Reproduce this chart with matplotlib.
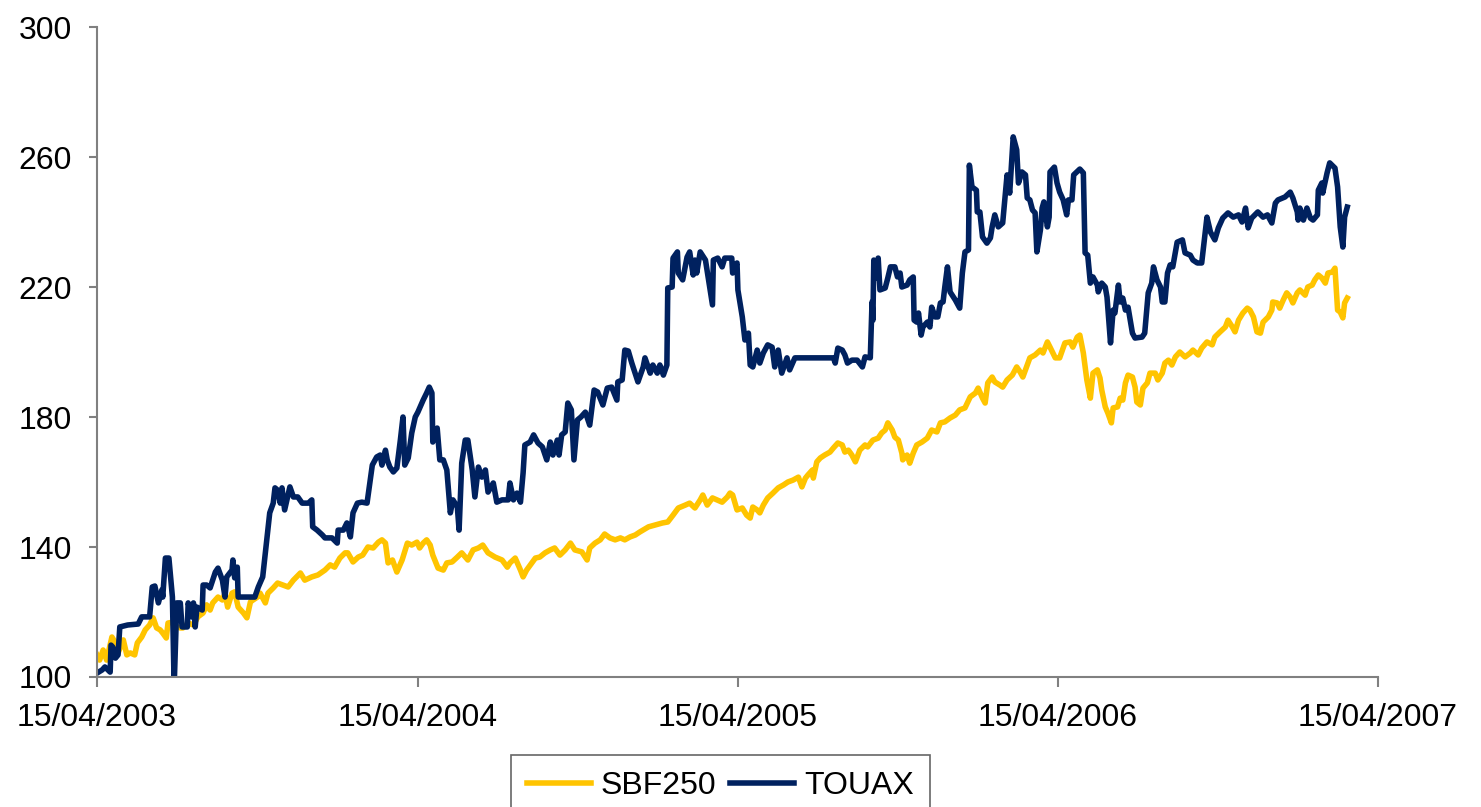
import numpy as np
import pandas as pd
import matplotlib
matplotlib.use('Agg')
import matplotlib.pyplot as plt
import matplotlib.dates as mdates

# Days since 15/04/2003 and index values
touax_days = [0, 6, 9, 15, 16, 18, 21, 24, 26, 35, 47, 51, 60, 63, 66, 70, 74, 75, 78, 82,
              86, 88, 91, 95, 97, 103, 104, 108, 110, 112, 114, 120, 121, 125, 129, 135, 138, 143, 146, 148,
              154, 155, 157, 160, 161, 180, 184, 189, 194, 197, 201, 203, 206, 209, 211, 214, 220, 224, 229, 234,
              241, 245, 246, 251, 257, 260, 268, 274, 275, 281, 285, 289, 292, 297, 302, 308, 314, 319, 323, 325,
              329, 331, 334, 338, 342, 346, 349, 351, 355, 359, 363, 366, 372, 376, 379, 382, 383, 388, 391, 395,
              399, 403, 406, 411, 413, 416, 420, 423, 428, 431, 435, 439, 443, 446, 452, 456, 462, 469, 471, 475,
              479, 483, 486, 488, 494, 498, 503, 508, 513, 517, 520, 525, 527, 530, 534, 537, 541, 544, 548, 552,
              557, 562, 567, 571, 577, 582, 587, 593, 594, 599, 602, 606, 610, 617, 623, 625, 631, 634, 639, 642,
              646, 650, 651, 656, 657, 662, 663, 668, 673, 676, 680, 682, 684, 688, 694, 697, 702, 703, 708, 713,
              716, 724, 725, 730, 731, 736, 739, 743, 745, 748, 753, 756, 760, 765, 770, 773, 777, 781, 787, 790,
              796, 840, 842, 845, 850, 853, 856, 861, 867, 873, 876, 882, 884, 885, 886, 890, 891, 893, 899, 902,
              905, 910, 913, 916, 918, 924, 927, 931, 932, 935, 937, 940, 942, 947, 950, 952, 956, 959, 962, 965,
              967, 970, 973, 979, 984, 987, 990, 994, 995, 998, 1003, 1004, 1007, 1010, 1015, 1019, 1021, 1024, 1028, 1033,
              1038, 1041, 1045, 1049, 1051, 1055, 1059, 1061, 1064, 1067, 1070, 1072, 1076, 1078, 1080, 1084, 1086, 1087, 1092, 1095,
              1098, 1102, 1106, 1108, 1112, 1114, 1121, 1125, 1127, 1130, 1133, 1136, 1141, 1142, 1146, 1150, 1152, 1156, 1159, 1161,
              1165, 1167, 1170, 1173, 1176, 1181, 1184, 1192, 1195, 1199, 1203, 1205, 1209, 1213, 1215, 1218, 1221, 1224, 1227, 1232,
              1238, 1241, 1247, 1250, 1255, 1260, 1266, 1270, 1275, 1279, 1284, 1290, 1296, 1302, 1306, 1310, 1313, 1317, 1324, 1330,
              1335, 1340, 1344, 1347, 1355, 1361, 1364, 1369, 1370, 1372, 1376, 1380, 1384, 1387, 1392, 1393, 1397, 1398, 1403, 1406,
              1412, 1415, 1418, 1421, 1423, 1426]
touax_vals = [101.2, 102.2, 103.1, 101.5, 109.8, 109.2, 105.8, 106.8, 115.4, 116.0, 116.3, 118.5, 118.5, 127.7, 128.0, 122.8, 126.8, 124.6, 136.6, 136.6,
              124.6, 97.0, 122.8, 122.8, 115.4, 115.4, 122.8, 118.5, 122.8, 115.4, 121.5, 120.6, 128.3, 128.3, 127.4, 132.3, 133.5, 129.8, 124.6, 130.8,
              132.9, 136.0, 130.5, 133.8, 124.6, 124.6, 127.7, 130.8, 143.1, 150.5, 153.5, 158.2, 157.5, 153.5, 158.2, 151.4, 158.5, 155.4, 155.4, 153.5,
              153.5, 154.5, 146.2, 145.2, 143.7, 142.8, 142.8, 141.2, 145.2, 145.2, 147.4, 143.1, 150.5, 153.5, 153.8, 153.5, 165.2, 167.7, 168.3, 165.2,
              169.8, 166.8, 164.6, 163.1, 164.3, 172.9, 180.0, 165.2, 167.4, 175.1, 180.0, 181.5, 185.2, 187.4, 189.2, 187.4, 172.3, 176.6, 166.8, 166.8,
              163.7, 150.5, 154.5, 152.3, 145.2, 165.8, 172.9, 172.9, 163.7, 155.4, 164.6, 161.5, 163.7, 156.9, 159.7, 153.8, 154.5, 154.5, 159.7, 154.5,
              156.6, 153.8, 162.8, 171.4, 172.3, 174.5, 172.0, 170.8, 166.8, 172.3, 168.3, 172.9, 168.3, 174.5, 175.4, 184.3, 182.2, 166.8, 179.1, 180.0,
              181.5, 177.5, 188.3, 187.7, 183.7, 188.9, 189.2, 185.2, 190.8, 191.4, 200.6, 200.3, 196.6, 190.8, 195.4, 198.2, 193.5, 196.0, 193.5, 196.0,
              192.9, 196.0, 219.7, 220.0, 228.9, 230.8, 224.3, 222.2, 229.2, 230.8, 223.7, 228.3, 224.3, 230.8, 228.3, 223.1, 214.5, 228.3, 228.9, 226.2,
              228.9, 228.9, 224.3, 227.4, 219.1, 210.8, 203.7, 205.8, 196.0, 195.4, 200.6, 196.6, 199.7, 202.2, 201.5, 195.4, 200.6, 193.5, 198.2, 194.5,
              198.2, 198.2, 196.6, 201.2, 200.6, 199.1, 196.6, 197.5, 197.5, 195.4, 198.5, 198.2, 215.4, 209.8, 228.3, 222.8, 228.9, 219.1, 219.7, 222.8,
              226.2, 226.2, 223.1, 224.3, 220.0, 220.6, 222.2, 223.1, 209.8, 209.2, 212.0, 205.2, 207.7, 209.2, 207.7, 213.8, 210.8, 210.8, 215.1, 215.4,
              220.0, 226.2, 218.5, 216.0, 213.5, 224.3, 230.8, 231.4, 257.5, 250.8, 249.8, 243.1, 243.1, 235.4, 233.5, 235.1, 238.5, 242.2, 238.5, 239.7,
              254.5, 248.9, 266.2, 262.2, 252.0, 255.4, 254.5, 247.4, 246.8, 243.7, 242.8, 230.8, 237.5, 244.3, 246.2, 238.5, 241.5, 255.4, 256.9, 252.0,
              249.2, 246.8, 242.2, 246.8, 246.8, 254.5, 256.3, 255.1, 230.5, 229.8, 221.2, 223.1, 220.6, 218.5, 221.2, 220.0, 216.9, 202.8, 212.9, 212.0,
              220.6, 215.4, 216.6, 212.9, 213.8, 205.8, 204.3, 204.6, 205.8, 218.2, 221.2, 226.2, 222.2, 220.0, 215.4, 215.4, 224.3, 226.8, 226.2, 233.8,
              234.5, 230.5, 229.8, 228.3, 227.4, 227.4, 241.5, 236.9, 234.5, 238.2, 241.2, 242.8, 241.5, 242.2, 240.0, 244.3, 238.2, 241.2, 243.1, 241.5,
              242.2, 239.7, 245.8, 246.8, 247.7, 249.2, 247.4, 243.1, 240.6, 244.3, 240.6, 244.3, 241.2, 240.6, 242.2, 249.8, 252.0, 248.9, 255.1, 258.2,
              256.6, 250.8, 238.5, 232.3, 241.5, 244.6]

sbf_days = [0, 3, 7, 11, 17, 21, 24, 30, 34, 38, 43, 46, 51, 55, 60, 64, 68, 72, 75, 79,
            81, 87, 91, 95, 98, 104, 110, 115, 121, 125, 129, 132, 138, 143, 146, 149, 154, 157, 161, 167,
            171, 175, 178, 183, 186, 192, 195, 201, 206, 212, 218, 224, 232, 237, 245, 252, 260, 266, 271, 277,
            283, 286, 292, 298, 303, 309, 315, 321, 325, 329, 332, 337, 342, 348, 354, 359, 365, 368, 372, 376,
            380, 383, 389, 395, 399, 405, 411, 416, 423, 429, 435, 440, 446, 454, 462, 468, 471, 477, 483, 486,
            490, 496, 500, 505, 511, 517, 522, 528, 534, 540, 545, 553, 559, 562, 568, 574, 579, 585, 591, 597,
            602, 608, 614, 619, 629, 637, 645, 651, 657, 663, 671, 676, 682, 688, 691, 696, 702, 707, 713, 719,
            722, 725, 730, 736, 741, 745, 748, 753, 756, 760, 765, 771, 777, 783, 788, 794, 800, 804, 808, 811,
            816, 817, 821, 825, 830, 836, 840, 845, 850, 853, 857, 861, 865, 870, 876, 879, 885, 891, 895, 899,
            902, 907, 910, 914, 918, 919, 924, 927, 931, 935, 941, 947, 952, 958, 962, 967, 973, 979, 984, 990,
            996, 1002, 1005, 1010, 1013, 1016, 1021, 1024, 1030, 1033, 1038, 1044, 1049, 1053, 1056, 1061, 1064, 1070, 1076, 1079,
            1084, 1087, 1093, 1098, 1104, 1110, 1113, 1118, 1121, 1125, 1129, 1133, 1136, 1141, 1144, 1146, 1150, 1153, 1157, 1159,
            1164, 1167, 1170, 1173, 1176, 1181, 1184, 1186, 1190, 1193, 1198, 1201, 1207, 1210, 1215, 1218, 1222, 1226, 1230, 1235,
            1241, 1247, 1250, 1256, 1260, 1266, 1272, 1275, 1281, 1287, 1290, 1295, 1298, 1302, 1307, 1312, 1315, 1319, 1323, 1327,
            1330, 1336, 1340, 1341, 1346, 1349, 1353, 1357, 1361, 1364, 1369, 1372, 1378, 1381, 1386, 1389, 1393, 1397, 1401, 1404,
            1409, 1412, 1415, 1418, 1421, 1423, 1426]
sbf_vals = [106.8, 105.2, 108.3, 105.2, 112.3, 110.5, 107.4, 111.4, 106.8, 107.4, 106.8, 110.5, 112.3, 114.5, 116.0, 118.2, 115.1, 114.5, 113.5, 112.0,
            116.6, 116.9, 115.4, 115.1, 115.1, 116.6, 116.0, 118.5, 119.7, 122.2, 120.6, 122.8, 124.6, 123.7, 125.8, 121.5, 125.8, 126.2, 121.5, 119.7,
            118.2, 123.1, 123.7, 124.6, 125.8, 122.8, 125.8, 127.4, 128.9, 128.3, 127.7, 129.8, 132.0, 129.8, 130.8, 131.4, 132.9, 134.5, 133.8, 136.6,
            138.2, 138.2, 135.4, 136.9, 137.5, 140.0, 139.7, 141.5, 142.2, 141.2, 135.1, 136.0, 132.3, 136.0, 141.2, 140.6, 141.5, 139.7, 141.2, 142.2,
            140.6, 137.5, 133.5, 132.9, 135.1, 135.4, 136.9, 138.2, 136.0, 139.1, 139.7, 140.6, 138.2, 136.9, 136.0, 133.8, 135.1, 136.6, 132.9, 130.8,
            132.9, 135.1, 136.6, 136.9, 138.2, 139.1, 139.7, 137.5, 139.1, 141.2, 139.1, 138.5, 136.0, 139.7, 141.2, 142.2, 144.0, 142.8, 142.2, 142.8,
            142.2, 143.1, 143.7, 144.6, 146.2, 146.8, 147.4, 147.7, 149.8, 152.0, 152.9, 153.5, 152.0, 154.5, 156.0, 152.9, 155.1, 154.5, 153.8, 155.4,
            156.6, 156.0, 151.4, 152.0, 149.8, 148.9, 152.3, 151.4, 150.5, 152.9, 155.1, 156.6, 158.2, 159.1, 160.0, 160.6, 161.5, 158.5, 161.2, 162.2,
            163.7, 161.2, 166.2, 167.4, 168.3, 169.2, 170.5, 172.0, 171.4, 169.2, 169.8, 168.3, 166.2, 169.8, 171.4, 170.8, 172.9, 173.5, 175.1, 176.0,
            178.2, 176.0, 173.8, 172.9, 168.9, 166.8, 168.3, 165.8, 168.9, 171.4, 172.3, 173.5, 176.0, 175.4, 178.2, 178.5, 179.7, 180.6, 182.2, 182.8,
            186.2, 187.4, 188.9, 185.8, 184.3, 190.5, 192.3, 190.8, 189.8, 189.2, 191.4, 192.9, 195.4, 193.8, 192.3, 196.0, 198.2, 199.1, 200.6, 199.7,
            203.1, 201.5, 198.2, 198.2, 202.8, 203.1, 201.5, 204.6, 205.2, 199.7, 191.4, 185.8, 193.5, 194.5, 192.0, 188.3, 183.1, 181.2, 178.2, 182.8,
            183.1, 185.8, 185.2, 190.5, 192.9, 192.3, 189.2, 184.6, 183.7, 188.9, 190.5, 193.5, 193.5, 191.4, 193.5, 196.6, 197.5, 196.0, 198.5, 200.0,
            198.5, 199.7, 200.6, 199.1, 201.2, 203.1, 202.2, 204.6, 206.2, 207.7, 209.8, 207.7, 206.2, 209.8, 212.0, 213.5, 212.9, 210.8, 206.2, 205.8,
            209.2, 210.8, 212.9, 215.4, 215.1, 213.5, 216.0, 218.2, 216.9, 215.1, 218.2, 219.1, 217.5, 220.0, 220.6, 222.2, 223.7, 222.8, 221.2, 224.3,
            224.6, 225.8, 212.9, 212.3, 210.5, 215.1, 216.6]

start = pd.Timestamp('2003-04-15')
tick_dates = pd.to_datetime(['2003-04-15', '2004-04-15', '2005-04-15', '2006-04-15', '2007-04-15'])

touax_dates = start + pd.to_timedelta(touax_days, unit='D')
sbf_dates = start + pd.to_timedelta(sbf_days, unit='D')

plt.rcParams['font.family'] = ['Liberation Sans', 'DejaVu Sans']

fig = plt.figure(figsize=(14.81, 8.07), dpi=100)
ax = fig.add_axes([0.0655, 0.1611, 0.8649, 0.8054])

ax.plot(sbf_dates, sbf_vals, color='#FFC400', linewidth=4.0, label='SBF250', solid_joinstyle='round')
ax.plot(touax_dates, touax_vals, color='#00215F', linewidth=4.0, label='TOUAX', solid_joinstyle='round')

ax.set_xlim(tick_dates[0], tick_dates[-1])
ax.set_ylim(100, 300)
ax.set_yticks(np.arange(100, 301, 40))
ax.set_xticks(tick_dates)
ax.xaxis.set_major_formatter(mdates.DateFormatter('%d/%m/%Y'))

for side in ['top', 'right']:
    ax.spines[side].set_visible(False)
for side in ['left', 'bottom']:
    ax.spines[side].set_color('#808080')
    ax.spines[side].set_linewidth(1.5)

ax.tick_params(axis='y', direction='out', length=6, width=1.5, color='#808080', labelsize=23, pad=12)
ax.tick_params(axis='x', direction='out', length=7, width=1.5, color='#808080', labelsize=23, pad=12)

leg = fig.legend(loc='upper left', bbox_to_anchor=(511 / 1481, 1 - 755 / 807), ncol=2,
                 fontsize=23, frameon=True, fancybox=False, handlelength=2.0,
                 handletextpad=0.3, columnspacing=0.45, borderpad=0.5, borderaxespad=0)
leg.get_frame().set_edgecolor('#404040')
leg.get_frame().set_linewidth(1.2)

fig.savefig('out.png', dpi=100)
